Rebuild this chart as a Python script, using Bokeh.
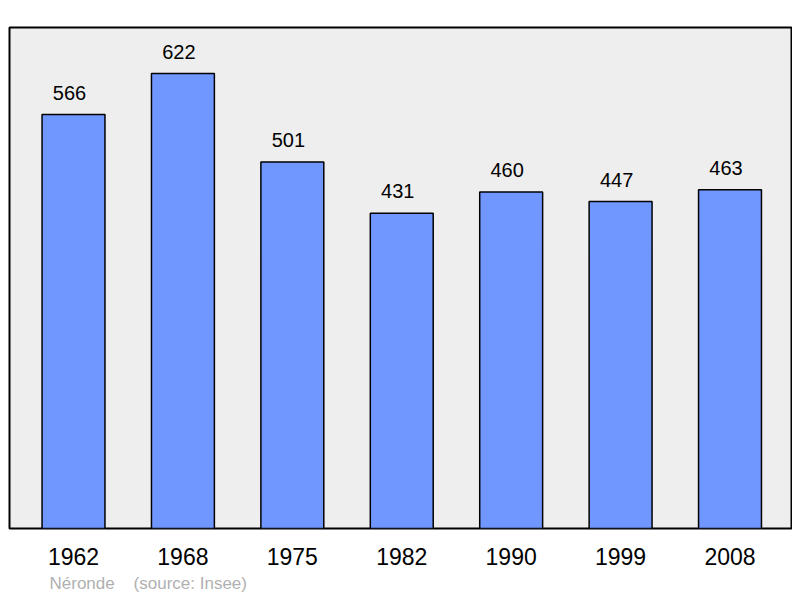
from bokeh.plotting import figure
from bokeh.models import Range1d, FixedTicker, Title, ColumnDataSource
from bokeh.core.properties import value
from bokeh.embed import file_html
from bokeh.resources import INLINE

years = ["1962", "1968", "1975", "1982", "1990", "1999", "2008"]
population = [566, 622, 501, 431, 460, 447, 463]
commune = "Néronde"
source_note = "(source: Insee)"

xs = list(range(len(years)))
src = ColumnDataSource(dict(x=xs, y=population, t=[str(v) for v in population]))

p = figure(width=792, height=597, output_backend="svg", toolbar_location=None,
           x_range=Range1d(-0.585, 6.562), y_range=Range1d(0, 685),
           min_border_left=9, min_border_right=1, min_border_top=27, min_border_bottom=69)
p.background_fill_color = "#eeeeee"
p.border_fill_color = "white"
p.outline_line_color = "black"
p.outline_line_width = 2
p.grid.visible = False
p.yaxis.visible = False

p.vbar(x="x", top="y", width=0.575, bottom=0, source=src,
       fill_color="#7097ff", line_color="black", line_width=1.5)
p.text(x="x", y="y", text="t", source=src, text_align="center",
       text_baseline="alphabetic", y_offset=-22, x_offset=-4, text_font_size="20px",
       text_font=value("Liberation Sans"), text_color="black")

ax = p.xaxis[0]
ax.ticker = FixedTicker(ticks=xs)
ax.major_label_overrides = {i: y for i, y in zip(xs, years)}
ax.axis_line_color = None
ax.major_tick_line_color = None
ax.minor_tick_line_color = None
ax.major_label_standoff = 13
ax.major_label_text_font_size = "23px"
ax.major_label_text_font = "Liberation Sans"
ax.major_label_text_color = "black"

nbsp = "\u00a0"
footer = Title(text=commune + nbsp * 4 + source_note, align="left", offset=40,
               text_font_size="17px", text_font="Liberation Sans",
               text_color="#b0b0b0", text_font_style="normal", standoff=9)
p.add_layout(footer, "below")

open("out.html", "w").write(file_html(p, INLINE))
